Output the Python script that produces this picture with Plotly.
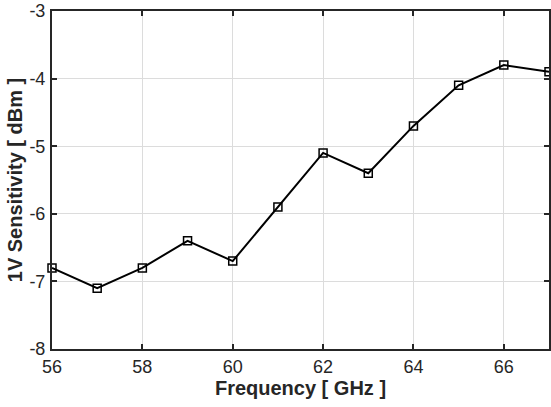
import plotly.graph_objects as go

freq = [56, 57, 58, 59, 60, 61, 62, 63, 64, 65, 66, 67]
sens = [-6.8, -7.1, -6.8, -6.4, -6.7, -5.9, -5.1, -5.4, -4.7, -4.1, -3.8, -3.9]
xticks = [56, 58, 60, 62, 64, 66]
yticks = [-8, -7, -6, -5, -4, -3]

fig = go.Figure()
fig.add_trace(go.Scatter(
    x=freq, y=sens, mode="lines+markers",
    line=dict(color="black", width=2),
    marker=dict(symbol="square-open", size=8, color="black", line=dict(width=1.5)),
    cliponaxis=False,
))

axis_common = dict(
    showline=True, linecolor="#262626", linewidth=2, mirror="ticks",
    ticks="inside", ticklen=5, tickwidth=2, tickcolor="#262626",
    showgrid=True, gridcolor="#dcdcdc", gridwidth=1, zeroline=False,
    tickfont=dict(family="Liberation Sans, Arial", size=18, color="#262626"),
)

fig.update_layout(
    width=551, height=407,
    margin=dict(l=52, r=0, t=11, b=58),
    paper_bgcolor="white", plot_bgcolor="white",
    showlegend=False,
    xaxis=dict(
        range=[56, 67], tickvals=xticks, ticktext=[str(v) for v in xticks],
        ticklabelstandoff=0,
        title=dict(text="<b>Frequency [ GHz ]</b>", standoff=0,
                   font=dict(family="Liberation Sans, Arial", size=20, color="#262626")),
        **axis_common,
    ),
    yaxis=dict(
        range=[-8, -3], tickvals=yticks, ticktext=[str(v) for v in yticks],
        ticklabelstandoff=1,
        title=dict(text="<b>1V Sensitivity [ dBm ]</b>", standoff=1,
                   font=dict(family="Liberation Sans, Arial", size=20, color="#262626")),
        **axis_common,
    ),
)

fig.write_html("out.html")
